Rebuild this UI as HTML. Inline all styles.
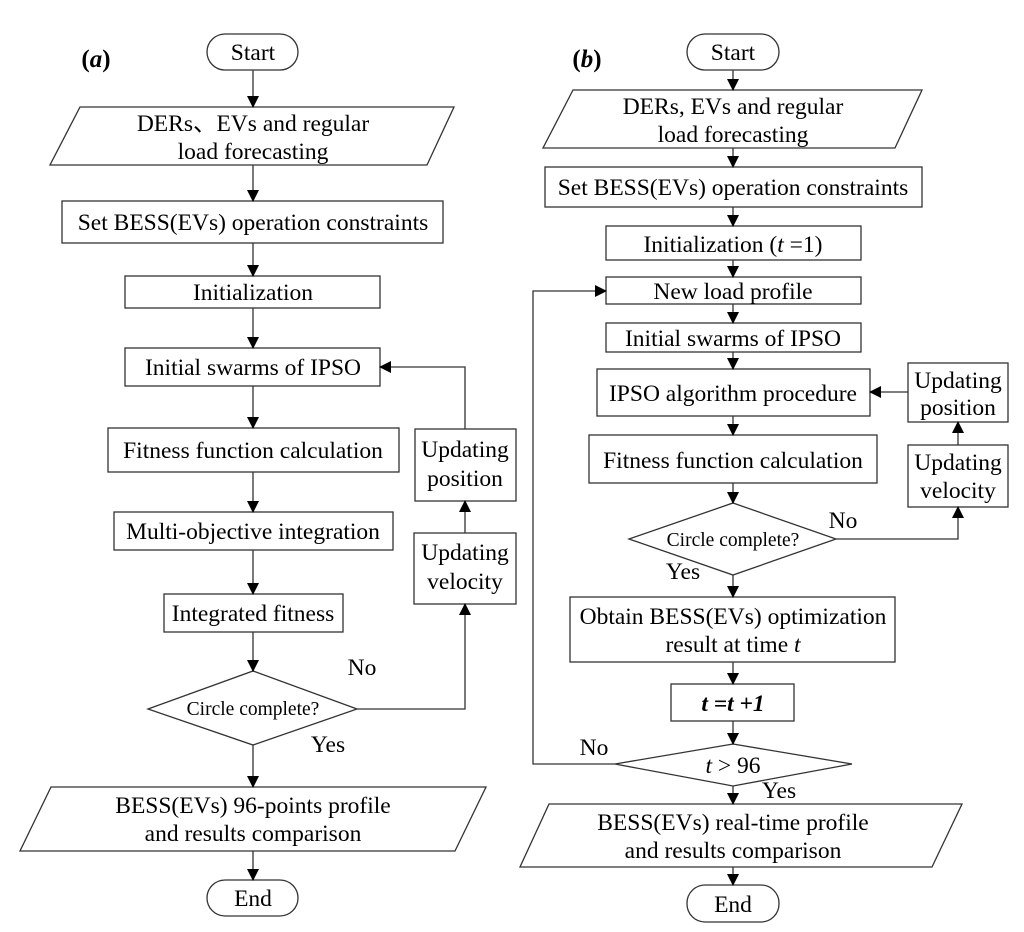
<!DOCTYPE html>
<html><head><meta charset="utf-8"><style>body{margin:0;background:#fff}svg{display:block}</style></head><body>
<svg width="1024" height="932" viewBox="0 0 1024 932" xmlns="http://www.w3.org/2000/svg" font-family="Liberation Serif, serif" fill="none" stroke="#333" stroke-width="1.3">
<defs><marker id="a" markerWidth="12" markerHeight="12" refX="11" refY="6" orient="auto" markerUnits="userSpaceOnUse"><path d="M0,0 L12,6 L0,12 z" fill="#000" stroke="none"/></marker></defs>
<g fill="#fff">
<rect x="207" y="34" width="91" height="36" rx="18"/>
<path d="M80,107 L454,107 L427,165 L50,165 Z"/>
<rect x="62" y="201" width="381" height="42"/>
<rect x="125" y="276" width="255" height="32"/>
<rect x="125" y="348" width="255" height="38"/>
<rect x="108" y="428" width="291" height="44"/>
<rect x="114" y="512" width="279" height="38"/>
<rect x="164" y="594" width="179" height="38"/>
<path d="M253,671 L357,709 L253,745 L148,709 Z"/>
<path d="M51,787 L486,787 L455,851 L20,851 Z"/>
<rect x="207" y="880" width="91" height="36" rx="18"/>
<rect x="415" y="429" width="101" height="72"/>
<rect x="414" y="533" width="102" height="71"/>
<rect x="687" y="34" width="92" height="36" rx="18"/>
<path d="M573,90 L922,90 L895,148 L543,148 Z"/>
<rect x="545" y="167" width="377" height="40"/>
<rect x="606" y="226" width="255" height="34"/>
<rect x="606" y="277" width="255" height="27"/>
<rect x="606" y="323" width="255" height="29"/>
<rect x="597" y="369" width="273" height="47"/>
<rect x="589" y="435" width="288" height="48"/>
<rect x="908" y="363" width="100" height="59"/>
<rect x="908" y="445" width="100" height="62"/>
<path d="M733,503 L836,539 L733,575 L629,539 Z"/>
<rect x="570" y="597" width="325" height="65"/>
<rect x="671" y="684" width="123" height="37"/>
<path d="M733,744 L852,764 L733,786 L615,764 Z"/>
<path d="M549,804 L962,804 L932,867 L520,867 Z"/>
<rect x="687" y="885" width="92" height="37" rx="18"/>
</g>
<g marker-end="url(#a)">
<path d="M253,70 V107"/><path d="M253,165 V201"/><path d="M253,243 V276"/><path d="M253,308 V348"/><path d="M253,386 V428"/><path d="M253,472 V512"/><path d="M253,550 V594"/><path d="M253,632 V671"/><path d="M253,745 V787"/><path d="M253,851 V880"/>
<path d="M357,709 H465 V604"/><path d="M465,533 V501"/><path d="M465,429 V367 H380"/>
<path d="M733,70 V90"/><path d="M733,148 V167"/><path d="M733,207 V226"/><path d="M733,260 V277"/><path d="M733,304 V323"/><path d="M733,352 V369"/><path d="M733,416 V435"/><path d="M733,483 V503"/><path d="M733,575 V597"/><path d="M733,662 V684"/><path d="M733,721 V744"/><path d="M733,786 V804"/><path d="M733,867 V885"/>
<path d="M836,539 H958 V507"/><path d="M958,445 V422"/><path d="M908,392 H870"/>
<path d="M615,764 H533 V291 H606"/>
</g>
<g fill="#000" stroke="none" font-size="23.5" text-anchor="middle">
<text x="96" y="67" font-weight="bold" font-size="25">(<tspan font-style="italic">a</tspan>)</text>
<text x="587" y="67" font-weight="bold" font-size="25">(<tspan font-style="italic">b</tspan>)</text>
<text x="253" y="60">Start</text>
<text x="253" y="131">DERs、EVs and regular</text>
<text x="253" y="159">load forecasting</text>
<text x="253" y="230">Set BESS(EVs) operation constraints</text>
<text x="253" y="300">Initialization</text>
<text x="253" y="375">Initial swarms of IPSO</text>
<text x="253" y="458">Fitness function calculation</text>
<text x="253" y="539">Multi-objective integration</text>
<text x="253" y="621">Integrated fitness</text>
<text x="253" y="715" font-size="19.5">Circle complete?</text>
<text x="362" y="675">No</text>
<text x="328" y="752">Yes</text>
<text x="253" y="813">BESS(EVs) 96-points profile</text>
<text x="253" y="841">and results comparison</text>
<text x="253" y="906">End</text>
<text x="465" y="457">Updating</text>
<text x="465" y="486">position</text>
<text x="465" y="560">Updating</text>
<text x="465" y="589">velocity</text>
<text x="733" y="60">Start</text>
<text x="733" y="114">DERs, EVs and regular</text>
<text x="733" y="142">load forecasting</text>
<text x="733" y="195">Set BESS(EVs) operation constraints</text>
<text x="733" y="252">Initialization (<tspan font-style="italic">t</tspan> =1)</text>
<text x="733" y="299">New load profile</text>
<text x="733" y="346">Initial swarms of IPSO</text>
<text x="733" y="401">IPSO algorithm procedure</text>
<text x="733" y="468">Fitness function  calculation</text>
<text x="733" y="546" font-size="19.5">Circle complete?</text>
<text x="843" y="528">No</text>
<text x="683" y="579">Yes</text>
<text x="733" y="624">Obtain BESS(EVs) optimization</text>
<text x="733" y="652">result at time <tspan font-style="italic">t</tspan></text>
<text x="733" y="711" font-weight="bold" font-style="italic">t =t +1</text>
<text x="733" y="773"><tspan font-style="italic">t</tspan> &gt; 96</text>
<text x="594" y="755">No</text>
<text x="779" y="798">Yes</text>
<text x="733" y="830">BESS(EVs) real-time profile</text>
<text x="733" y="858">and results comparison</text>
<text x="733" y="912">End</text>
<text x="958" y="388">Updating</text>
<text x="958" y="415">position</text>
<text x="958" y="470">Updating</text>
<text x="958" y="498">velocity</text>
</g>
</svg>
</body></html>
